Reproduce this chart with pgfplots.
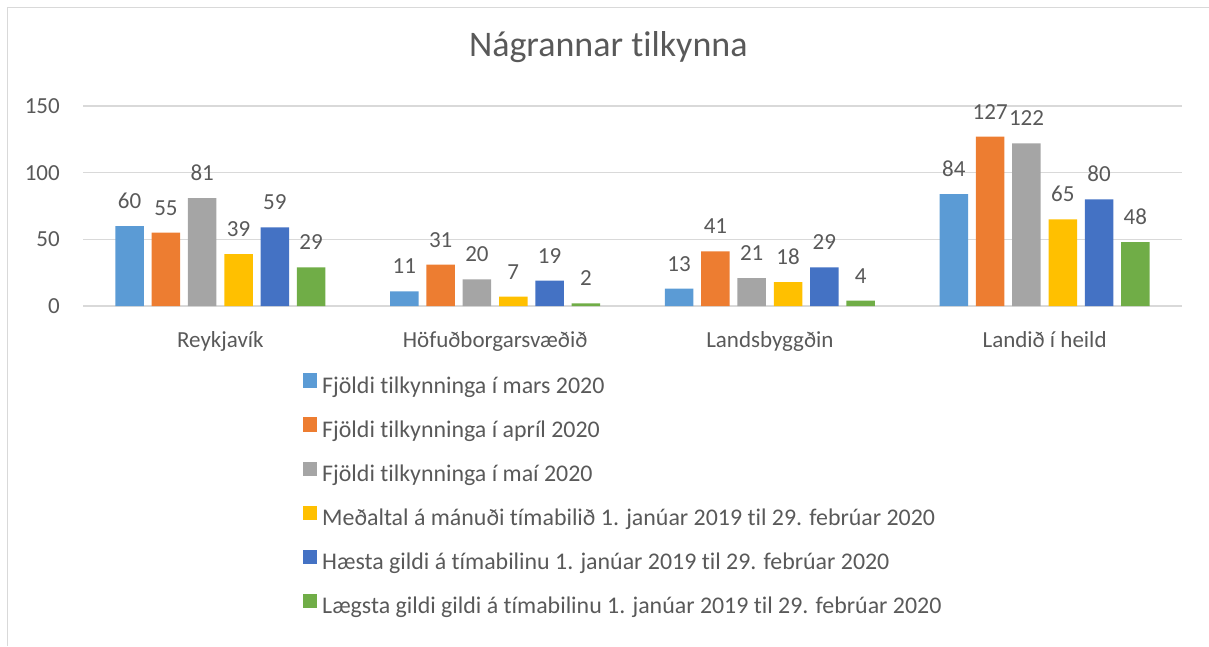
\documentclass[border=0pt]{standalone}
\usepackage{fontspec}
\setmainfont{Carlito}[Ligatures={NoCommon}]
\usepackage{pgfplots}
\pgfplotsset{compat=1.18}
\definecolor{c1}{HTML}{5B9BD5}
\definecolor{c2}{HTML}{ED7D31}
\definecolor{c3}{HTML}{A5A5A5}
\definecolor{c4}{HTML}{FFC000}
\definecolor{c5}{HTML}{4472C4}
\definecolor{c6}{HTML}{70AD47}
\definecolor{txt}{HTML}{595959}
\definecolor{gridc}{HTML}{D9D9D9}
\begin{document}
\begin{tikzpicture}[x=1pt,y=1pt]
\useasboundingbox (0,0) rectangle (1209,646);
\draw[gridc, line width=1.2pt] (7.5,0) -- (7.5,638.5) -- (1209,638.5);
\begin{axis}[
  at={(83pt,340pt)}, anchor=south west,
  scale only axis, width=1099pt, height=200pt,
  ymin=0, ymax=150, xmin=-0.5, xmax=3.5,
  ytick={0,50,100,150},
  xtick=data,
  xticklabels={Reykjavík,Höfuðborgarsvæðið,Landsbyggðin,Landið í heild},
  ybar=7.8pt, bar width=28.5pt,
  axis line style={draw=none},
  axis x line*=bottom,
  major tick length=0pt,
  ymajorgrids, grid style={gridc, line width=1.2pt},
  tick label style={font=\fontsize{23}{27}\selectfont, text=txt},
  /pgf/number format/assume math mode=true,
  yticklabel style={anchor=east, inner sep=0pt, xshift=-23pt},
  xticklabel style={anchor=base, inner sep=0pt, yshift=-41pt},
  nodes near coords,
  every node near coord/.append style={font=\fontsize{23}{27}\selectfont, text=txt, anchor=base, inner sep=0pt, yshift=17.5pt},
  title={Nágrannar tilkynna},
  title style={at={(axis description cs:0.478,1.2165)}, anchor=base, font=\fontsize{36}{42}\selectfont, text=txt, inner sep=0pt},
  legend cell align=left,
  legend style={at={(axis description cs:0.2002,-0.336)}, anchor=north west, draw=none, fill=none,
    inner sep=0pt, row sep=19.2pt, column sep=0pt,
    font=\fontsize{23.9}{27}\selectfont, text=txt,
    nodes={inner sep=0pt, text height=15.5pt, text depth=5pt}},
  legend image code/.code={\fill[#1] (0pt,0pt) rectangle (14pt,14.6pt);},
  legend columns=1,
]
\addplot[fill=c1, draw=none] coordinates {(0,60) (1,11) (2,13) (3,84)};
\addplot[fill=c2, draw=none] coordinates {(0,55) (1,31) (2,41) (3,127)};
\addplot[fill=c3, draw=none] coordinates {(0,81) (1,20) (2,21) (3,122)};
\addplot[fill=c4, draw=none] coordinates {(0,39) (1,7) (2,18) (3,65)};
\addplot[fill=c5, draw=none] coordinates {(0,59) (1,19) (2,29) (3,80)};
\addplot[fill=c6, draw=none] coordinates {(0,29) (1,2) (2,4) (3,48)};
\legend{\hspace{5pt}Fjöldi tilkynninga í mars 2020,
\hspace{5pt}Fjöldi tilkynninga í apríl 2020,
\hspace{5pt}Fjöldi tilkynninga í maí 2020,
\hspace{5pt}Meðaltal á mánuði tímabilið 1. janúar 2019 til 29. febrúar 2020,
\hspace{5pt}Hæsta gildi á tímabilinu 1. janúar 2019 til 29. febrúar 2020,
\hspace{5pt}Lægsta gildi gildi á tímabilinu 1. janúar 2019 til 29. febrúar 2020}
\end{axis}
\end{tikzpicture}
\end{document}
